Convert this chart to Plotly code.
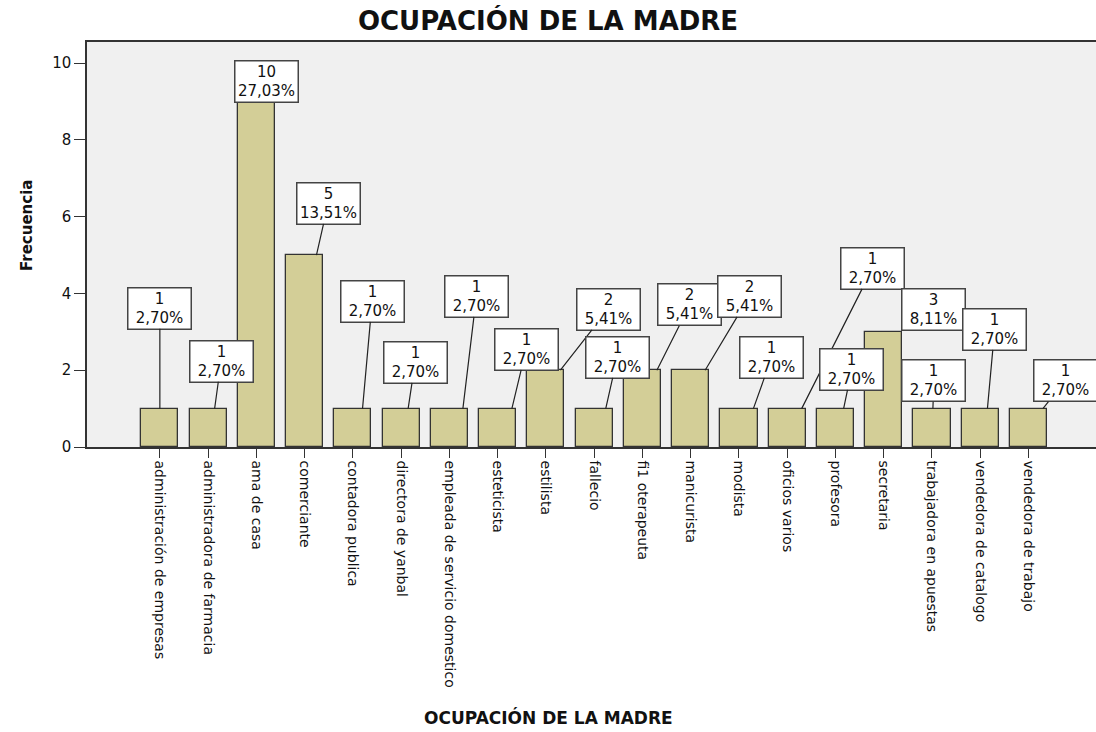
import plotly.graph_objects as go

# ---------------- data ----------------
categories = [
    "administración de empresas", "administradora de farmacia", "ama de casa",
    "comerciante", "contadora publica", "directora de yanbal",
    "empleada de servicio domestico", "esteticista", "estilista", "fallecio",
    "fi1 oterapeuta", "manicurista", "modista", "oficios varios", "profesora",
    "secretaria", "trabajadora en apuestas", "vendedora de catalogo",
    "vendedora de trabajo",
]
counts = [1, 1, 10, 5, 1, 1, 1, 1, 2, 1, 2, 2, 1, 1, 1, 3, 1, 1, 1]
y_ticks = [0, 2, 4, 6, 8, 10]

# label box centres (layout positions, in axis units)
label_x = [0.0, 1.27, 2.22, 3.49, 4.40, 5.29, 6.56, 7.59, 9.29, 9.48,
           10.98, 12.22, 12.68, 14.77, 14.34, 16.04, 16.04, 17.30, 18.76]
label_y = [3.62, 2.24, 9.53, 6.35, 3.80, 2.21, 3.93, 2.55, 3.59, 2.34,
           3.70, 3.93, 2.34, 4.66, 2.03, 3.59, 1.72, 3.07, 1.72]

total = sum(counts)
xs = list(range(len(categories)))

FONT = "DejaVu Sans"
BAR_COLOR = "#D3CE97"
EDGE = "#333333"

fig = go.Figure()
fig.add_trace(go.Bar(
    x=xs, y=counts, width=0.77,
    marker=dict(color=BAR_COLOR, line=dict(color=EDGE, width=1.3)),
    hoverinfo="skip",
))

annotations = []
half_box = 0.56  # half label box height in y units
box_style = dict(
    bgcolor="white", bordercolor="#444444", borderwidth=1.5, borderpad=1,
    width=60, height=38,
    font=dict(family=FONT, size=15, color="#111111"),
    align="center", valign="middle",
)
for i, c in enumerate(counts):
    pct = f"{c / total * 100:.2f}".replace(".", ",") + "%"
    lx, ly = label_x[i], label_y[i]
    dx = max(-0.3, min(0.3, (lx - i) * 0.5))
    show_line = (ly - half_box) > c + 0.1
    if show_line:
        annotations.append(dict(
            x=i + dx, y=c, xref="x", yref="y",
            ax=lx, ay=ly, axref="x", ayref="y",
            text=f"{c}<br>{pct}",
            showarrow=True, arrowhead=0, arrowwidth=1.2, arrowcolor="#222222",
            standoff=0, startstandoff=0, **box_style,
        ))
    else:
        annotations.append(dict(
            x=lx, y=ly, xref="x", yref="y",
            text=f"{c}<br>{pct}", showarrow=False, **box_style,
        ))

# axis titles
annotations.append(dict(
    text="<b>OCUPACIÓN DE LA MADRE</b>", xref="paper", yref="paper",
    x=0.457, y=-0.669, showarrow=False, xanchor="center", yanchor="middle",
    font=dict(family=FONT, size=17, color="#111111"),
))
annotations.append(dict(
    text="<b>Frecuencia</b>", xref="paper", yref="paper",
    x=-0.0595, y=0.548, showarrow=False, textangle=-90,
    xanchor="center", yanchor="middle",
    font=dict(family=FONT, size=15, color="#111111"),
))

fig.update_layout(
    width=1096, height=732,
    margin=dict(l=87, r=0, t=42, b=285, autoexpand=False),
    paper_bgcolor="white", plot_bgcolor="#F0F0F0",
    showlegend=False,
    title=dict(text="<b>OCUPACIÓN DE LA MADRE</b>", xref="container", x=0.5,
               yref="container", y=1 - 21 / 732, xanchor="center", yanchor="middle",
               font=dict(family=FONT, size=26, color="#111111")),
    annotations=annotations,
    bargap=0,
)
fig.update_xaxes(
    range=[-1.51, 19.4], tickmode="array", tickvals=xs, ticktext=categories,
    tickangle=90, ticks="outside", ticklen=9, tickcolor=EDGE, tickwidth=1.3,
    showline=True, linecolor=EDGE, linewidth=1.5, mirror=True,
    showgrid=False, zeroline=False, automargin=False,
    tickfont=dict(family=FONT, size=14, color="#111111"),
)
fig.update_yaxes(
    range=[0, 10.55], tickmode="array", tickvals=y_ticks,
    ticks="outside", ticklen=11, tickcolor=EDGE, tickwidth=1.3,
    showline=True, linecolor=EDGE, linewidth=1.5, mirror=True,
    showgrid=False, zeroline=False, automargin=False,
    tickfont=dict(family=FONT, size=15, color="#111111"),
)

fig.write_html("out.html", config={"displayModeBar": False},
               post_script="document.body.style.margin='0';")
